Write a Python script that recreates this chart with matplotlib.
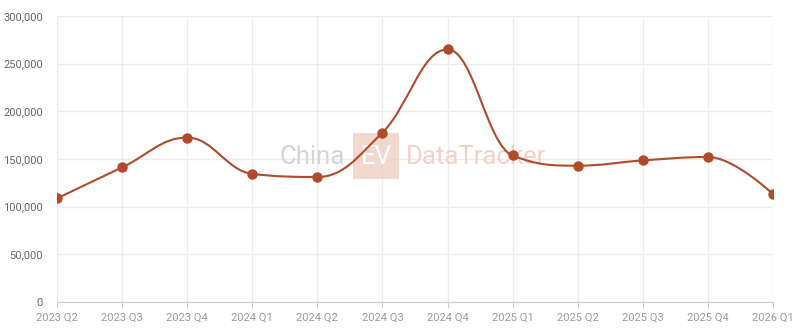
import matplotlib
matplotlib.use("Agg")
import matplotlib.pyplot as plt
from matplotlib.path import Path
from matplotlib.patches import PathPatch, Rectangle
from matplotlib.ticker import FuncFormatter

quarters = ["2023 Q2", "2023 Q3", "2023 Q4", "2024 Q1", "2024 Q2", "2024 Q3",
            "2024 Q4", "2025 Q1", "2025 Q2", "2025 Q3", "2025 Q4", "2026 Q1"]
sales = [108600, 141200, 172500, 134400, 131200, 177700,
         265000, 153700, 143000, 148500, 152100, 113100]
y_ticks = [0, 50000, 100000, 150000, 200000, 250000, 300000]

LINE = "#b04a2a"
GRID = "#efebe8"


def spline_path(xs, ys, smoothing=1.5):
    # highcharts-style spline: one cubic bezier between each pair of points
    n = len(xs)
    denom = smoothing + 1
    right_cont = [None] * n
    verts = [(xs[0], ys[0])]
    codes = [Path.MOVETO]
    for i in range(1, n):
        px, py = xs[i], ys[i]
        lcx, lcy = px, py
        if i < n - 1:
            lx, ly = xs[i - 1], ys[i - 1]
            nx, ny = xs[i + 1], ys[i + 1]
            lcx = (smoothing * px + lx) / denom
            lcy = (smoothing * py + ly) / denom
            rcx = (smoothing * px + nx) / denom
            rcy = (smoothing * py + ny) / denom
            corr = 0
            if rcx != lcx:
                corr = (rcy - lcy) * (rcx - px) / (rcx - lcx) + py - rcy
            lcy += corr
            rcy += corr
            if lcy > ly and lcy > py:
                lcy = max(ly, py)
                rcy = 2 * py - lcy
            elif lcy < ly and lcy < py:
                lcy = min(ly, py)
                rcy = 2 * py - lcy
            if rcy > ny and rcy > py:
                rcy = max(ny, py)
                lcy = 2 * py - rcy
            elif rcy < ny and rcy < py:
                rcy = min(ny, py)
                lcy = 2 * py - rcy
            right_cont[i] = (rcx, rcy)
        prev = right_cont[i - 1] or (xs[i - 1], ys[i - 1])
        verts += [prev, (lcx, lcy), (px, py)]
        codes += [Path.CURVE4] * 3
    return Path(verts, codes)


plt.rcParams["font.family"] = ["Roboto", "DejaVu Sans"]

fig = plt.figure(figsize=(8, 3.34), dpi=100)
ax = fig.add_axes([57 / 800, 1 - 302 / 334, 716 / 800, 286 / 334])

x = list(range(len(quarters)))
ax.add_patch(PathPatch(spline_path(x, sales), fill=False, edgecolor=LINE,
                       lw=1.5, zorder=4))
ax.plot(x, sales, "o", color=LINE, ms=6.5, zorder=5)

ax.set_xlim(0, len(quarters) - 1)
ax.set_ylim(0, 300000)
ax.set_xticks(x)
ax.set_xticklabels(quarters)
ax.set_yticks(y_ticks)
ax.yaxis.set_major_formatter(FuncFormatter(lambda v, p: f"{int(v):,}"))

ax.grid(True, color=GRID, lw=1, zorder=0)
ax.set_axisbelow(True)
for s in ["top", "right", "left"]:
    ax.spines[s].set_visible(False)
ax.spines["bottom"].set_color("#cccccc")
ax.tick_params(axis="x", colors="#cccccc", labelcolor="#9a9a9a", labelsize=8,
               length=4, pad=4)
ax.tick_params(axis="y", length=0, labelcolor="#666666", labelsize=8, pad=10)

# watermark, kept under the line
tf = fig.transFigure
ax.text(345 / 800, 1 - 164 / 334, "China", color="#d4d4d4", fontsize=18.5,
        ha="right", va="baseline", transform=tf, zorder=1)
ax.add_patch(Rectangle((353 / 800, 1 - 179 / 334), 46 / 800, 46 / 334,
                       transform=tf, facecolor="#f0d2c6", edgecolor="none",
                       alpha=0.85, zorder=1, clip_on=False))
ax.text(376 / 800, 1 - 164 / 334, "EV", color="white", fontsize=18.5,
        ha="center", va="baseline", transform=tf, zorder=2)
ax.text(406 / 800, 1 - 164 / 334, "DataTracker", color="#f0d2c6", fontsize=18.5,
        ha="left", va="baseline", transform=tf, zorder=1)

fig.savefig("out.png", dpi=100)
